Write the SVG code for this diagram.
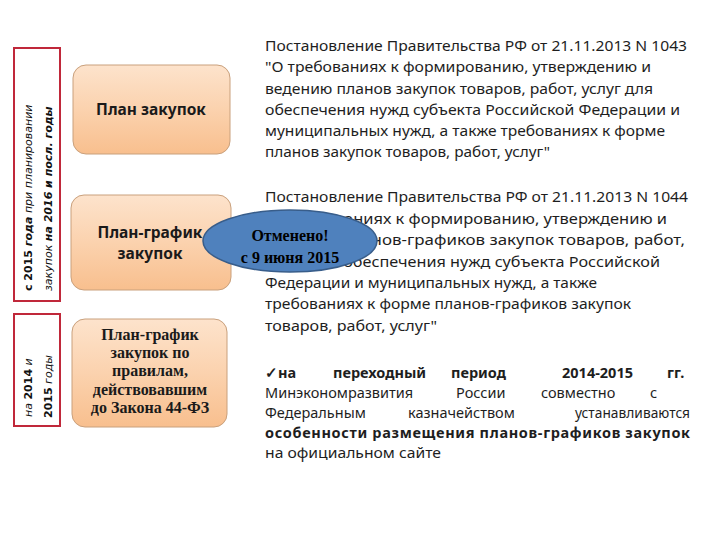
<svg xmlns="http://www.w3.org/2000/svg" width="720" height="540" viewBox="0 0 720 540">
<defs>
<linearGradient id="peach" x1="0" y1="0" x2="0" y2="1">
<stop offset="0" stop-color="#fde3cc"/>
<stop offset="0.5" stop-color="#fbd2ae"/>
<stop offset="1" stop-color="#f8bf8e"/>
</linearGradient>
<style>
.frame{fill:#ffffff;stroke:#c0283a;stroke-width:2}
.box{fill:url(#peach);stroke:#c9a07c;stroke-width:1}
.vt{font-family:"DejaVu Sans",sans-serif;font-size:11px;fill:#111}
.bt{font-family:"Noto Sans","Liberation Sans",sans-serif;font-size:15.5px;font-weight:bold;fill:#1a1a1a;text-anchor:middle}
.st{font-family:"Liberation Serif",serif;font-size:16px;font-weight:bold;fill:#1a1a1a;text-anchor:middle}
.et{font-family:"Liberation Serif",serif;font-size:16px;font-weight:bold;text-anchor:middle;fill:#000000}
.rt{font-family:"Noto Sans","Liberation Sans",sans-serif;font-size:14.5px;fill:#1e1e1e}
.b{font-weight:bold}
</style>
</defs>
<rect width="720" height="540" fill="#ffffff"/>
<g id="frame-2015">
<rect class="frame" x="14" y="48" width="46" height="253"/>
<text class="vt" transform="translate(32,291) rotate(-90)"><tspan class="b">с 2015 </tspan><tspan class="b" font-style="italic">года</tspan><tspan font-style="italic"> при планировании</tspan></text>
<text class="vt" transform="translate(52,291) rotate(-90)"><tspan font-style="italic">закупок </tspan><tspan class="b" font-style="italic">на 2016 и посл. годы</tspan></text>
</g>
<g id="frame-2014">
<rect class="frame" x="14" y="314" width="46" height="112"/>
<text class="vt" transform="translate(32,417) rotate(-90)"><tspan font-style="italic">на </tspan><tspan class="b">2014</tspan><tspan font-style="italic"> и</tspan></text>
<text class="vt" transform="translate(52,418) rotate(-90)"><tspan class="b">2015</tspan><tspan font-style="italic"> годы</tspan></text>
</g>
<g id="connectors"></g>
<g id="node-plan">
<rect class="box" x="73" y="65" width="157" height="89" rx="13"/>
<text class="bt" x="151" y="115">План закупок</text>
</g>
<g id="node-plangraf">
<rect class="box" x="71" y="195" width="160" height="95" rx="13"/>
<text class="bt" x="150" y="238">План-график</text>
<text class="bt" x="150" y="259">закупок</text>
</g>
<g id="node-old">
<rect class="box" x="72" y="319" width="155" height="108" rx="13"/>
<text class="st" x="150" y="340">План-график</text>
<text class="st" x="150" y="358">закупок по</text>
<text class="st" x="150" y="376">правилам,</text>
<text class="st" x="150" y="395">действовавшим</text>
<text class="st" x="150" y="413">до Закона 44-ФЗ</text>
</g>
<g id="text-1043">
<text class="rt" x="265" y="51" textLength="422" lengthAdjust="spacingAndGlyphs">Постановление Правительства РФ от 21.11.2013 N 1043</text>
<text class="rt" x="265" y="72" textLength="386" lengthAdjust="spacingAndGlyphs">"О требованиях к формированию, утверждению и</text>
<text class="rt" x="265" y="93.5" textLength="388" lengthAdjust="spacingAndGlyphs">ведению планов закупок товаров, работ, услуг для</text>
<text class="rt" x="265" y="115" textLength="415" lengthAdjust="spacingAndGlyphs">обеспечения нужд субъекта Российской Федерации и</text>
<text class="rt" x="265" y="136" textLength="400" lengthAdjust="spacingAndGlyphs">муниципальных нужд, а также требованиях к форме</text>
<text class="rt" x="265" y="157" textLength="285" lengthAdjust="spacingAndGlyphs">планов закупок товаров, работ, услуг"</text>
</g>
<g id="text-1044">
<text class="rt" x="265" y="202" textLength="423" lengthAdjust="spacingAndGlyphs">Постановление Правительства РФ от 21.11.2013 N 1044</text>
<text class="rt" x="265" y="223.5" textLength="402" lengthAdjust="spacingAndGlyphs">"О требованиях к формированию, утверждению и</text>
<text class="rt" x="265" y="245" textLength="420" lengthAdjust="spacingAndGlyphs">ведению планов-графиков закупок товаров, работ,</text>
<text class="rt" x="265" y="266.5" textLength="395" lengthAdjust="spacingAndGlyphs">услуг для обеспечения нужд субъекта Российской</text>
<text class="rt" x="265" y="288" textLength="332" lengthAdjust="spacingAndGlyphs">Федерации и муниципальных нужд, а также</text>
<text class="rt" x="265" y="309" textLength="366" lengthAdjust="spacingAndGlyphs">требованиях к форме планов-графиков закупок</text>
<text class="rt" x="265" y="330.5" textLength="172" lengthAdjust="spacingAndGlyphs">товаров, работ, услуг"</text>
</g>
<g id="text-transition">
<text class="rt b" x="265" y="378">✓на</text>
<text class="rt b" x="333" y="378">переходный</text>
<text class="rt b" x="451" y="378">период</text>
<text class="rt b" x="562" y="378">2014-2015</text>
<text class="rt b" x="667" y="378">гг.</text>
<text class="rt" x="265" y="398">Минэкономразвития</text>
<text class="rt" x="456" y="398">России</text>
<text class="rt" x="541" y="398">совместно</text>
<text class="rt" x="650" y="398">с</text>
<text class="rt" x="265" y="418">Федеральным</text>
<text class="rt" x="408" y="418">казначейством</text>
<text class="rt" x="575" y="418" textLength="115" lengthAdjust="spacingAndGlyphs">устанавливаются</text>
<text class="rt b" x="265" y="438" textLength="425" lengthAdjust="spacing">особенности размещения планов-графиков закупок</text>
<text class="rt" x="265" y="458" textLength="176" lengthAdjust="spacingAndGlyphs">на официальном сайте</text>
</g>
<g id="node-cancelled">
<ellipse cx="290" cy="241" rx="87" ry="31" fill="#4f81bd" stroke="#385d8a" stroke-width="1.5"/>
<text class="et" x="290" y="241">Отменено!</text>
<text class="et" x="290" y="263">с 9 июня 2015</text>
</g>
</svg>
